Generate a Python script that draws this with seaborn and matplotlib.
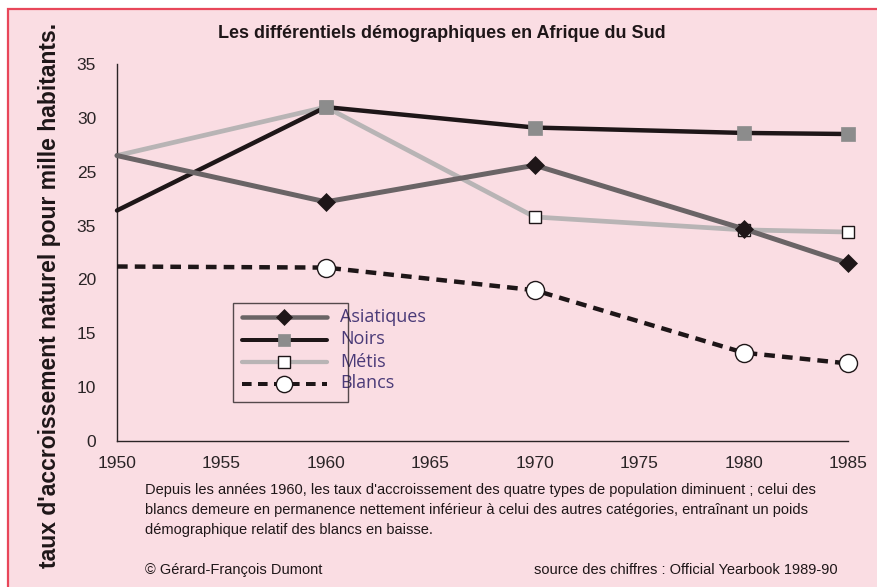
import matplotlib
matplotlib.use("Agg")
import matplotlib.pyplot as plt
from matplotlib.lines import Line2D
from matplotlib.patches import Rectangle
import numpy as np
import pandas as pd
import seaborn as sns

# values (linear 0-35 scale)
years = [1950, 1960, 1970, 1980, 1985]
asiatiques = [26.5, 22.2, 25.6, 19.7, 16.5]
noirs = [21.4, 31.0, 29.1, 28.6, 28.5]
metis = [26.5, 31.0, 20.8, 19.6, 19.4]
blancs = [16.2, 16.1, 14.0, 8.2, 7.2]

x_ticks = [1950, 1955, 1960, 1965, 1970, 1975, 1980, 1985]
y_ticks = [0, 5, 10, 15, 20, 25, 30, 35]
# the printed labels (as they appear on the original figure)
y_tick_labels = ['0', '10', '15', '20', '35', '25', '30', '35']

series_names = ['Asiatiques', 'Noirs', 'Métis', 'Blancs']

PINK = '#fadde3'
BORDER = '#e8475a'
INK = '#1e1618'

sns.set_style('white')
plt.rcParams['font.family'] = ['Liberation Sans', 'DejaVu Sans']

data = pd.DataFrame({
    'year': years * 4,
    'rate': asiatiques + noirs + metis + blancs,
    'kind': np.repeat(series_names, len(years)),
})

styles = {
    'Asiatiques': dict(color='#6a6466', lw=3.6, ls='-', marker='D', ms=9,
                       mfc=INK, mec=INK, zorder=4),
    'Noirs': dict(color=INK, lw=3.2, ls='-', marker='s', ms=9.5,
                  mfc='#8c8c8c', mec='#8c8c8c', zorder=3),
    'Métis': dict(color='#b8b4b5', lw=3.4, ls='-', marker='s', ms=9,
                  mfc='white', mec=INK, mew=1.0, zorder=2),
    'Blancs': dict(color=INK, lw=3.2, ls=(0, (2.4, 1.6)), marker='o', ms=13,
                   mfc='white', mec=INK, mew=1.0, zorder=5),
}

fig = plt.figure(figsize=(8.78, 5.87), dpi=100, facecolor='white')
fig.add_artist(Rectangle((8 / 878, -0.05), 1.1, 1 - 9 / 587 + 0.05,
                         transform=fig.transFigure, facecolor=PINK,
                         edgecolor=BORDER, lw=1.6, zorder=-10))
ax = fig.add_axes([117 / 878, 1 - 441 / 587, 731 / 878, 377 / 587])
ax.set_facecolor('none')

for name in series_names:
    st = styles[name]
    sns.lineplot(data=data[data.kind == name], x='year', y='rate', ax=ax,
                 color=st['color'], linewidth=st['lw'], linestyle=st['ls'],
                 marker=st['marker'], markersize=st['ms'],
                 markerfacecolor=st['mfc'], markeredgecolor=st['mec'],
                 markeredgewidth=st.get('mew', 0.5), markevery=[1, 2, 3, 4],
                 zorder=st['zorder'], legend=False, clip_on=False)

ax.set_xlim(1950, 1985)
ax.set_ylim(0, 35)
ax.set_xticks(x_ticks)
ax.set_yticks(y_ticks)
ax.set_yticklabels(y_tick_labels)
ax.set_xlabel('')
ax.set_ylabel('')
for side in ['top', 'right']:
    ax.spines[side].set_visible(False)
for side in ['left', 'bottom']:
    ax.spines[side].set_color('#2a2426')
    ax.spines[side].set_linewidth(1.0)
ax.tick_params(axis='both', direction='inout', length=8, width=1.0,
               color='#2a2426', labelsize=12.5, labelcolor='#2a2426')
ax.tick_params(axis='y', pad=11)
ax.tick_params(axis='x', pad=7)

# legend: handles in a box, hand-written names beside it
handles = []
for name in series_names:
    st = styles[name]
    handles.append(Line2D([], [], color=st['color'], lw=st['lw'] * 0.9,
                          ls=st['ls'], marker=st['marker'],
                          ms=st['ms'] * 0.9, mfc=st['mfc'], mec=st['mec'],
                          mew=st.get('mew', 0.5)))
leg = ax.legend(handles, [''] * 4, loc='upper left',
                bbox_to_anchor=(0.159, 0.366), borderaxespad=0, fontsize=10,
                handlelength=6.1, handleheight=1.0, labelspacing=0.6,
                borderpad=0.63, handletextpad=0.9, numpoints=1,
                frameon=True, fancybox=False)
leg.get_frame().set_edgecolor('#2a2426')
leg.get_frame().set_facecolor('none')
leg.get_frame().set_linewidth(1.0)

label_y = [0.329, 0.271, 0.210, 0.154]
for name, yy in zip(series_names, label_y):
    ax.text(0.305, yy, name, transform=ax.transAxes, fontsize=13,
            color='#4a3a78', va='center', ha='left',
            family=['Open Sans', 'DejaVu Sans'])

fig.text(442 / 878, 1 - 33 / 587,
         'Les différentiels démographiques en Afrique du Sud',
         ha='center', va='center', fontsize=13, fontweight='bold', color=INK)
fig.text(50 / 878, 1 - 295 / 587,
         "taux d'accroissement naturel pour mille habitants.",
         rotation=90, ha='center', va='center', fontsize=16.5,
         fontweight='bold', color=INK)

caption = ("Depuis les années 1960, les taux d'accroissement des quatre types de population diminuent ; celui des\n"
           "blancs demeure en permanence nettement inférieur à celui des autres catégories, entraînant un poids\n"
           "démographique relatif des blancs en baisse.")
fig.text(145 / 878, 1 - 483 / 587, caption, ha='left', va='top',
         fontsize=10.5, color=INK, linespacing=1.55)
fig.text(145 / 878, 1 - 570 / 587, '© Gérard-François Dumont', ha='left',
         va='center', fontsize=10.5, color=INK)
fig.text(534 / 878, 1 - 570 / 587,
         'source des chiffres : Official Yearbook 1989-90', ha='left',
         va='center', fontsize=10.5, color=INK)

fig.savefig('out.png', dpi=100, facecolor=fig.get_facecolor())
